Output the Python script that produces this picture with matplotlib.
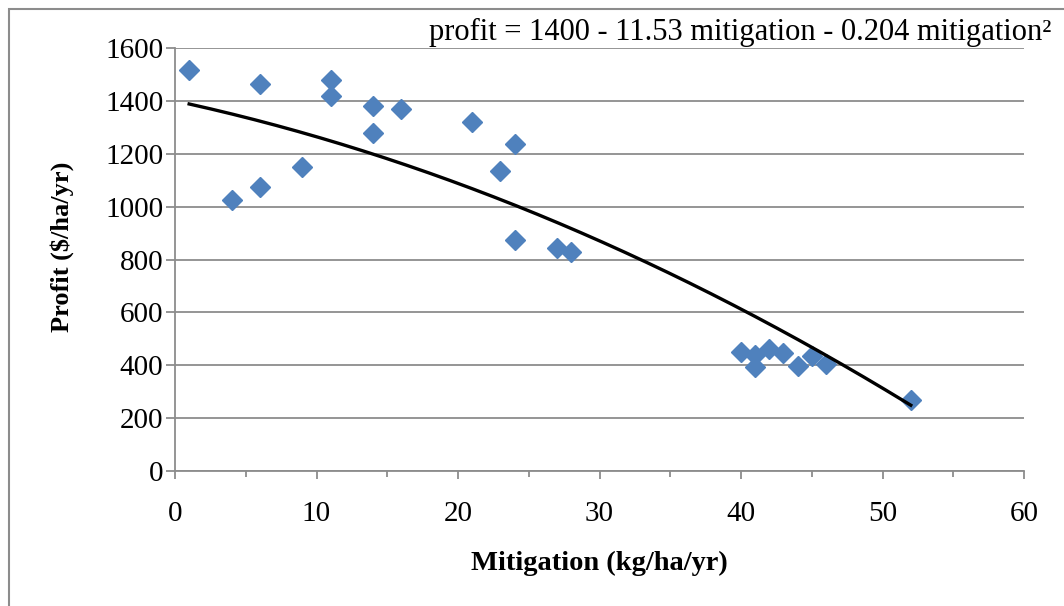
import matplotlib
matplotlib.use("Agg")
import matplotlib.pyplot as plt
import numpy as np
from matplotlib.patches import Rectangle
from matplotlib.ticker import MultipleLocator

plt.rcParams['font.family'] = ['Liberation Serif', 'DejaVu Serif']

# data
mitigation = [1, 4, 6, 6, 9, 11, 11, 14, 14, 16, 21, 23, 24, 24, 27, 28,
              40, 41, 41, 42, 43, 44, 45, 46, 52]
profit = [1515, 1025, 1465, 1075, 1150, 1480, 1420, 1380, 1278, 1370, 1320, 1135, 1238, 875, 845, 830,
          450, 395, 440, 460, 445, 398, 435, 405, 270]

# trendline coefficients (from the equation on the chart)
trend_coef = [-0.204, -11.53, 1400]
equation = "profit = 1400 - 11.53 mitigation - 0.204 mitigation\u00b2"

W, H = 1064, 606
fig = plt.figure(figsize=(W / 100, H / 100), dpi=100)
ax = fig.add_axes([175 / W, 1 - 471 / H, (1024 - 175) / W, (471 - 48) / H])

grey = '#8c8c8c'

# outer chart frame (right and bottom edges fall outside the picture)
fig.patches.append(Rectangle((9 / W, -0.1), 1.2, 1 - 9 / H + 0.1, transform=fig.transFigure,
                             fill=False, edgecolor=grey, lw=1.5))

ax.plot(mitigation, profit, linestyle='none', marker='D', ms=10.5,
        color='#4f81bd', mec='#4f81bd', zorder=3)

xs = np.linspace(min(mitigation), max(mitigation), 200)
ax.plot(xs, np.polyval(trend_coef, xs), color='black', lw=2.4, zorder=4)

ax.set_xlim(0, 60)
ax.set_ylim(0, 1600)
ax.xaxis.set_major_locator(MultipleLocator(10))
ax.xaxis.set_minor_locator(MultipleLocator(5))
ax.yaxis.set_major_locator(MultipleLocator(200))

ax.yaxis.grid(True, color=grey, lw=1.3)
ax.set_axisbelow(True)
for s in ['top', 'right']:
    ax.spines[s].set_visible(False)
for s in ['left', 'bottom']:
    ax.spines[s].set_color(grey)
    ax.spines[s].set_linewidth(1.3)

ax.tick_params(axis='y', direction='out', length=6.5, width=1.3, color=grey,
               labelsize=21, pad=2)
ax.tick_params(axis='x', which='major', direction='out', length=5.5, width=1.3, color=grey,
               labelsize=21, pad=16)
ax.tick_params(axis='x', which='minor', direction='out', length=4.5, width=1.3, color=grey)

ax.set_xlabel('Mitigation (kg/ha/yr)', fontsize=20.5, fontweight='bold', va='center')
ax.xaxis.set_label_coords(0.5, (471 - 563) / 423)
ax.set_ylabel('Profit ($/ha/yr)', fontsize=19, fontweight='bold', va='center')
ax.yaxis.set_label_coords((62 - 175) / 849, (471 - 247) / 423)

fig.text(740 / W, 1 - 32 / H, equation, ha='center', va='center', fontsize=22)

fig.savefig('out.png', dpi=100)
